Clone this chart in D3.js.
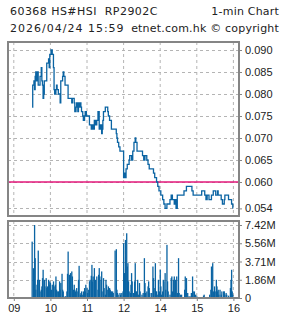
<!DOCTYPE html>
<html>
<head>
<meta charset="utf-8">
<script src="https://cdn.jsdelivr.net/npm/d3@7"></script>
<style>
  body { margin: 0; background: #fff; }
  svg text { white-space: pre; }
</style>
</head>
<body>
<div id="chart"></div>
<script>
// title lines
const titleLeft = ["60368 HS#HSI  RP2902C", "2026/04/24 15:59"];
const titleRight = ["1-min Chart", "etnet.com.hk \u00a9 copyright"];

// axis ticks
const hourTicks = ["09:00", "10:00", "11:00", "12:00", "14:00", "15:00", "16:00"];
const hourLabels = ["09", "10", "11", "12", "14", "15", "16"];
const priceTicks = [0.054, 0.060, 0.065, 0.070, 0.075, 0.080, 0.085, 0.090];
const volTicks = [0, 1.855, 3.71, 5.565, 7.42];
const volLabels = ["0", "1.86M", "3.71M", "5.56M", "7.42M"];
const prevClose = 0.060;

// price (1-min, only the minutes where it moved)
const priceTimes = [
  "09:30","09:31","09:33","09:34","09:35","09:36","09:37","09:39","09:40","09:43",
  "09:45","09:46","09:47","09:48","09:49","09:50","09:54","09:57","09:58","09:59",
  "10:01","10:03","10:05","10:06","10:07","10:09","10:10","10:11","10:13","10:16",
  "10:17","10:20","10:21","10:22","10:24","10:29","10:35","10:36","10:39","10:40",
  "10:42","10:43","10:45","10:46","10:47","10:49","10:50","10:51","10:53","10:54",
  "10:56","10:57","10:59","11:04","11:07","11:09","11:10","11:12","11:14","11:16",
  "11:18","11:20","11:22","11:24","11:25","11:26","11:27","11:30","11:34","11:35",
  "11:37","11:40","11:48","11:49","11:50","11:52","11:54",
  "13:00","13:01","13:02","13:04","13:06","13:09","13:10","13:13","13:15","13:17",
  "13:19","13:20","13:22","13:31","13:33","13:35","13:38","13:40","13:42","13:49",
  "13:51","13:54","13:56","13:58","14:01","14:04","14:06","14:08","14:11","14:16",
  "14:18","14:20","14:23","14:24","14:26","14:28","14:39","14:43","14:52","14:54",
  "15:08","15:13","15:15","15:17","15:20","15:24","15:27","15:31","15:34","15:35",
  "15:40","15:42","15:45","15:46","15:52","15:57","15:59"
];
const prices = [
  0.077,0.082,0.083,0.081,0.084,0.085,0.083,0.085,0.082,0.084,
  0.086,0.083,0.082,0.079,0.080,0.083,0.087,0.088,0.086,0.089,
  0.090,0.089,0.086,0.081,0.080,0.081,0.082,0.081,0.080,0.078,
  0.083,0.084,0.085,0.084,0.082,0.079,0.078,0.079,0.078,0.076,
  0.077,0.078,0.076,0.078,0.077,0.078,0.077,0.076,0.075,0.074,
  0.075,0.076,0.075,0.073,0.072,0.073,0.072,0.074,0.073,0.074,
  0.076,0.072,0.073,0.071,0.072,0.074,0.076,0.077,0.076,0.075,
  0.074,0.072,0.071,0.070,0.069,0.068,0.067,
  0.061,0.062,0.061,0.063,0.064,0.065,0.066,0.065,0.067,0.069,
  0.070,0.069,0.067,0.066,0.065,0.066,0.065,0.064,0.063,0.062,
  0.061,0.060,0.059,0.058,0.057,0.056,0.055,0.054,0.055,0.056,
  0.057,0.056,0.055,0.056,0.054,0.057,0.058,0.059,0.058,0.057,
  0.058,0.057,0.056,0.057,0.056,0.057,0.058,0.057,0.058,0.057,
  0.056,0.055,0.056,0.057,0.056,0.055,0.054
];

// volume in millions
const volTimes = [
  "09:30","09:32","09:34","09:35","09:36","09:38","09:39","09:40","09:42","09:43",
  "09:45","09:46","09:47","09:48","09:50","09:51","09:53","09:54","09:55","09:57",
  "09:58","09:59","10:00","10:02","10:03","10:05","10:06","10:08","10:09","10:10",
  "10:12","10:13","10:15","10:16","10:17","10:19","10:20","10:21","10:24","10:25",
  "10:27","10:28","10:29","10:31","10:32","10:33","10:35","10:36","10:38","10:39",
  "10:40","10:41","10:43","10:45","10:46","10:47","10:49","10:50","10:51","10:53",
  "10:54","10:56","10:57","10:58","11:00","11:01","11:02","11:04","11:05","11:07",
  "11:08","11:09","11:10","11:12","11:13","11:14","11:16","11:18","11:19","11:20",
  "11:21","11:23","11:24","11:26","11:27","11:28","11:30","11:31","11:32","11:34",
  "11:35","11:37","11:38","11:39","11:40","11:42","11:43","11:46","11:48","11:49",
  "11:50","11:51","11:54","11:55","11:57","11:59",
  "13:00","13:01","13:02","13:03","13:05","13:06","13:07","13:08","13:09","13:11",
  "13:12","13:13","13:14","13:16","13:18","13:19","13:20","13:21","13:23","13:24",
  "13:26","13:27","13:30","13:32","13:34","13:35","13:36","13:38","13:40","13:41",
  "13:42","13:43","13:46","13:48","13:49","13:50","13:52","13:53","13:54","13:56",
  "13:57","13:59","14:00","14:01","14:02","14:04","14:05","14:06","14:08","14:09",
  "14:11","14:12","14:13","14:16","14:18","14:19","14:20","14:22","14:23","14:24",
  "14:25","14:27","14:28","14:30","14:31","14:33","14:35","14:40","14:41","14:42",
  "14:43","14:45","14:47","14:49","14:51","14:52","14:53","14:54","14:56","14:58",
  "15:00","15:03","15:05","15:08","15:11","15:12","15:14","15:16","15:21","15:23",
  "15:24","15:26","15:27","15:29","15:30","15:32","15:33","15:34","15:35","15:36",
  "15:38","15:40","15:41","15:44","15:45","15:46","15:48","15:49","15:52","15:55",
  "15:56","15:57","15:58","15:59"
];
const volumes = [
  5.73,3.03,7.42,4.05,0.84,1.35,1.85,4.82,1.85,0.67,
  0.84,1.18,2.02,2.87,1.85,1.18,2.02,1.01,1.18,1.85,
  1.35,1.69,1.52,0.84,1.35,1.69,1.18,1.35,2.19,0.84,
  0.67,0.67,1.69,0.84,1.52,2.46,0.84,0.67,0.17,0.17,
  0.67,2.46,4.72,2.36,2.19,2.53,2.70,2.19,0.84,1.35,
  0.84,0.67,1.01,0.67,1.85,3.27,0.34,0.51,0.67,0.34,
  0.67,1.01,0.67,1.35,1.01,0.51,0.84,1.69,1.85,2.26,
  3.37,1.69,2.19,3.04,1.69,1.85,2.19,0.84,2.36,3.04,
  2.19,1.85,2.70,0.67,2.02,1.01,0.34,1.85,1.35,0.84,
  1.18,1.01,0.84,0.67,0.67,0.67,0.51,4.82,4.96,0.84,
  0.51,0.34,0.51,0.34,0.51,0.67,
  5.57,2.53,2.53,5.90,6.58,3.20,3.54,1.69,0.67,0.51,
  1.35,2.53,1.69,0.51,1.69,3.54,0.67,0.67,1.85,0.34,
  1.52,0.67,0.34,0.51,4.05,1.52,0.51,0.67,1.18,1.69,
  1.01,0.51,0.51,3.20,2.02,1.01,3.54,0.67,0.67,0.34,
  1.85,0.67,2.87,1.18,0.34,0.67,1.85,1.69,2.53,0.84,
  5.40,1.69,0.67,0.34,2.02,2.19,0.67,1.85,2.19,0.51,
  1.85,2.19,0.51,4.05,0.51,0.34,0.34,0.84,2.19,0.51,
  2.02,0.51,0.17,0.17,0.51,0.34,2.19,0.67,0.67,0.34,
  0.17,0.10,0.10,0.10,0.24,0.34,0.10,0.10,0.34,0.84,
  3.20,3.54,0.67,1.18,0.67,1.85,1.18,0.67,0.84,0.34,
  0.84,0.34,0.67,0.67,0.67,0.34,0.51,0.34,0.24,1.01,
  1.85,2.87,0.67,0.34
];

if (priceTimes.length !== prices.length) console.error("price length mismatch");
if (volTimes.length !== volumes.length) console.error("volume length mismatch");

// minutes of the trading day from 09:00, lunch hour squeezed out
function sessionMin(s) {
    const [h, m] = s.split(":").map(Number);
    let t = h * 60 + m - 540;
    if (t >= 240) t -= 60;
    return t;
}

const svg = d3.select("#chart").append("svg")
    .attr("width", 285)
    .attr("height", 318)
    .style("font-family", "'DejaVu Sans', Verdana, sans-serif");

const left = 8, right = 239;
const pTop = 42, pBottom = 216;
const vTop = 221, vBottom = 298;
const gridColor = "#b4b4b4";
const blue = "#0b64a3";

const x = d3.scaleLinear()
    .domain([0, 360])
    .range([13.8, 233.4]);

const yPrice = d3.scaleLinear()
    .domain([0.054, 0.090])
    .range([208.4, 50]);

const yVol = d3.scaleLinear()
    .domain([0, 7.42])
    .range([vBottom, 225]);

// title
const leftSpacing = ["0.45px", "1px"];

svg.selectAll("text.tl")
    .data(titleLeft)
    .enter()
    .append("text")
    .attr("class", "tl")
    .attr("x", 10)
    .attr("y", (d, i) => 15 + i * 17)
    .style("font-size", "11px")
    .style("letter-spacing", (d, i) => leftSpacing[i])
    .style("fill", "#222")
    .text(d => d);

svg.selectAll("text.tr")
    .data(titleRight)
    .enter()
    .append("text")
    .attr("class", "tr")
    .attr("x", 279)
    .attr("y", (d, i) => 15 + i * 17)
    .attr("text-anchor", "end")
    .style("font-size", "11px")
    .style("letter-spacing", "0.2px")
    .style("fill", "#222")
    .text(d => d);

// gridlines
const hourMins = hourTicks.map(sessionMin);

[[pTop, pBottom], [vTop, vBottom]].forEach(([t, b]) => {
    svg.append("g")
        .selectAll("line")
        .data(hourMins)
        .enter()
        .append("line")
        .attr("x1", d => x(d))
        .attr("x2", d => x(d))
        .attr("y1", t)
        .attr("y2", b)
        .attr("stroke", gridColor)
        .attr("stroke-dasharray", "3,3");
});

svg.append("g")
    .selectAll("line")
    .data(priceTicks)
    .enter()
    .append("line")
    .attr("x1", left)
    .attr("x2", right)
    .attr("y1", d => Math.round(yPrice(d)) + 0.5)
    .attr("y2", d => Math.round(yPrice(d)) + 0.5)
    .attr("stroke", gridColor)
    .attr("stroke-dasharray", "3,3");

svg.append("g")
    .selectAll("line")
    .data(volTicks.slice(1))
    .enter()
    .append("line")
    .attr("x1", left)
    .attr("x2", right)
    .attr("y1", d => Math.round(yVol(d)) + 0.5)
    .attr("y2", d => Math.round(yVol(d)) + 0.5)
    .attr("stroke", gridColor)
    .attr("stroke-dasharray", "3,3");

// previous close
svg.append("line")
    .attr("x1", left)
    .attr("x2", right)
    .attr("y1", yPrice(prevClose))
    .attr("y2", yPrice(prevClose))
    .attr("stroke", "#e3177a")
    .attr("stroke-width", 1.4);

// price line
const priceData = priceTimes.map((t, i) => ({ t: sessionMin(t), p: prices[i] }));

const line = d3.line()
    .x(d => x(d.t))
    .y(d => yPrice(d.p))
    .curve(d3.curveStepAfter);

svg.append("path")
    .datum(priceData)
    .attr("d", line)
    .attr("fill", "none")
    .attr("stroke", blue)
    .attr("stroke-width", 1.3);

// volume bars
const volData = volTimes.map((t, i) => ({ t: sessionMin(t), v: volumes[i] }));

svg.append("g")
    .selectAll("rect")
    .data(volData)
    .enter()
    .append("rect")
    .attr("x", d => x(d.t) - 0.6)
    .attr("y", d => yVol(d.v))
    .attr("width", 1.3)
    .attr("height", d => yVol(0) - yVol(d.v))
    .attr("fill", blue);

// panel frames
[[pTop, pBottom], [vTop, vBottom]].forEach(([t, b]) => {
    svg.append("rect")
        .attr("x", left)
        .attr("y", t)
        .attr("width", right - left)
        .attr("height", b - t)
        .attr("fill", "none")
        .attr("stroke", "#858585")
        .attr("stroke-width", 2);
});

// axes
const priceAxis = d3.axisRight(yPrice)
    .tickValues(priceTicks)
    .tickSize(3)
    .tickPadding(3)
    .tickFormat(d3.format(".3f"));

const volAxis = d3.axisRight(yVol)
    .tickValues(volTicks)
    .tickSize(3)
    .tickPadding(3)
    .tickFormat((d, i) => volLabels[i]);

const timeAxis = d3.axisBottom(x)
    .tickValues(hourMins)
    .tickSize(3)
    .tickPadding(3)
    .tickFormat((d, i) => hourLabels[i]);

const gp = svg.append("g").attr("transform", `translate(${right},0)`).call(priceAxis);
const gv = svg.append("g").attr("transform", `translate(${right},0)`).call(volAxis);
const gt = svg.append("g").attr("transform", `translate(0,${vBottom})`).call(timeAxis);

[gp, gv, gt].forEach(g => {
    g.select(".domain").remove();
    g.selectAll(".tick line").attr("stroke", "#858585");
    g.selectAll("text")
        .style("font-family", "'Liberation Sans', Arial, sans-serif")
        .style("font-size", "11px")
        .style("fill", "#222");
});
</script>
</body>
</html>
